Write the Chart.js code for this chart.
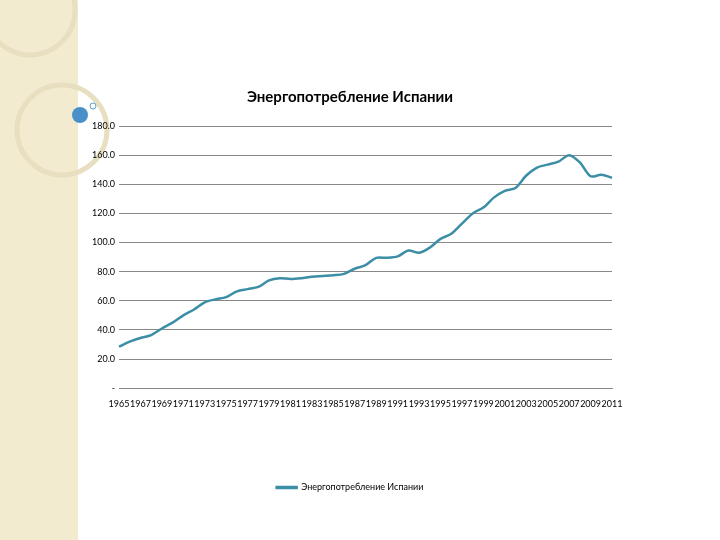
<!DOCTYPE html><html><head><meta charset="utf-8"><script src="https://cdn.jsdelivr.net/npm/chart.js"></script>
<style>html,body{margin:0;padding:0;background:#fff}#w{position:absolute;left:0;top:0;width:720px;height:540px}</style></head><body>
<div id="w"><canvas id="c" width="720" height="540"></canvas></div>
<script>
const years=[];for(let y=1965;y<=2011;y++)years.push(String(y));
const values=[28.5,32,34.5,36.5,41,45,50,54,59,61,62.5,66.5,68,69.5,74,75.5,75,75.5,76.5,77,77.5,78.5,82,84.5,89.5,89.5,90.5,94.5,93,96.5,102.5,106,113,120,124,131,135.5,137.5,146,151.5,153.5,155.5,160,155,145.5,146.5,144.5];
const seriesName='Энергопотребление Испании';
const bg={id:'bg',beforeDraw(c){const x=c.ctx;x.save();x.fillStyle='#f3ebcf';x.fillRect(0,0,78,540);
x.strokeStyle='#e8dfc0';x.lineWidth=5;x.beginPath();x.arc(62,130,45,0,Math.PI*2);x.stroke();
x.beginPath();x.arc(30,10,45,0,Math.PI*2);x.stroke();
x.fillStyle='#4a90c8';x.beginPath();x.arc(80,115,8,0,Math.PI*2);x.fill();
x.strokeStyle='#5aa0d0';x.lineWidth=1;x.beginPath();x.arc(93,106,3,0,Math.PI*2);x.stroke();x.restore();}};
new Chart(document.getElementById('c'),{type:'line',data:{labels:years,datasets:[{label:seriesName,data:values,borderColor:'#3b8ea5',backgroundColor:'#3b8ea5',borderWidth:2.5,pointRadius:0,tension:0.3,fill:false}]},
options:{responsive:false,animation:false,layout:{padding:{left:88,right:108,top:88,bottom:38}},
plugins:{title:{display:true,text:'Энергопотребление Испании',font:{family:'Lato',size:15,weight:'bold'},color:'#000',padding:{top:0,bottom:20}},
legend:{position:'bottom',labels:{boxWidth:20,boxHeight:1,font:{family:'Lato',size:9},color:'#000',padding:72},onClick:null}},
scales:{x:{grid:{display:false},border:{color:'#888'},ticks:{autoSkip:false,maxRotation:0,font:{family:'Lato',size:9},color:'#000',padding:2,callback:(v,i)=>i%2===0?years[i]:''}},
y:{min:0,max:180,grid:{color:'#888',drawTicks:false},border:{display:false},ticks:{stepSize:20,padding:4,font:{family:'Lato',size:9},color:'#000',callback:v=>v===0?'-':v.toFixed(1)}}}},plugins:[bg]});
</script></body></html>
